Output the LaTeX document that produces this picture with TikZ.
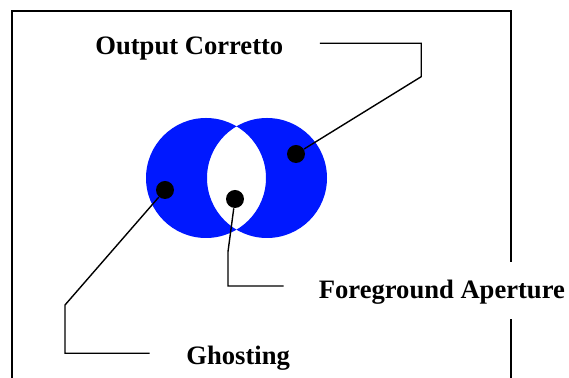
\documentclass[tikz,border=0pt]{standalone}
\usepackage{fontspec}
\setmainfont{Liberation Serif}
\usepackage{xcolor}
\usetikzlibrary{positioning}
\definecolor{lensblue}{RGB}{0,24,255}

\begin{document}
\begin{tikzpicture}[
  x=0.5pt, y=-0.5pt,
  dot/.style={circle, fill=black, inner sep=0pt, minimum size=9pt},
  label/.style={anchor=base west, inner sep=0pt, font=\fontsize{13.3}{16}\selectfont\bfseries},
  frame/.style={line width=1pt},
  leader/.style={line width=0.7pt}
]
\useasboundingbox (0,0) rectangle (569,378);

% frame, open at the bottom and at the right-hand label
\draw[frame] (12,378) -- (12,11) -- (510.5,11) -- (510.5,261.7);
\draw[frame] (510.5,319.3) -- (510.5,378);

% the two overlapping discs, overlap left empty
\fill[lensblue, even odd rule] (206,178) circle[radius=30pt] (267,178) circle[radius=30pt];

\node[dot] (outdot) at (296,154) {};
\node[dot] (ghostdot) at (165,190) {};
\node[dot] (fgdot) at (235,199) {};

\node[label] (outlbl) at (95,55) {Output Corretto};
\node[label] (fglbl) at (318.5,298.3) {Foreground Aperture};
\node[label] (ghostlbl) at (186,364.3) {Ghosting};

\coordinate (outa) at (319.8,43.3);
\coordinate (outb) at (421.2,43.3);
\coordinate (outc) at (421.2,76.7);
\coordinate (fga) at (228,251.7);
\coordinate (fgb) at (228,286);
\coordinate (fgc) at (283.7,286);
\coordinate (ghosta) at (65,305);
\coordinate (ghostb) at (65,353.3);
\coordinate (ghostc) at (149.5,353.3);

\draw[leader] (outdot) -- (outc) -- (outb) -- (outa);
\draw[leader] (fgdot) -- (fga) -- (fgb) -- (fgc);
\draw[leader] (ghostdot) -- (ghosta) -- (ghostb) -- (ghostc);
\end{tikzpicture}
\end{document}
